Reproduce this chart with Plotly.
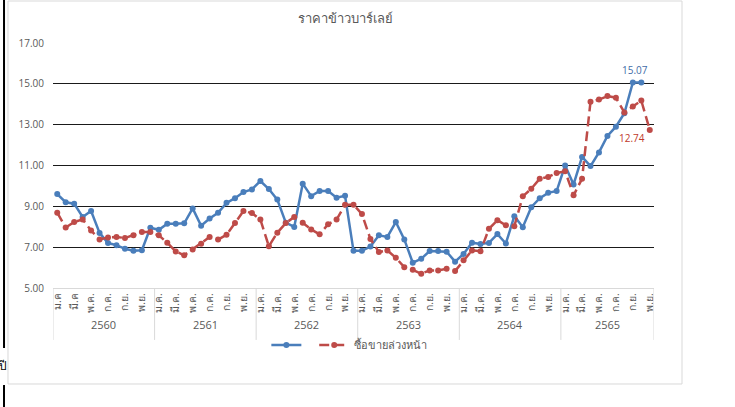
import plotly.graph_objects as go

title_text = "ราคาข้าวบาร์เลย์"
years = ["2560", "2561", "2562", "2563", "2564", "2565"]
months_per_year = [12, 12, 12, 12, 12, 11]
tick_labels = (
    ["ม.ค", "มี.ค", "พ.ค.", "ก.ค.", "ก.ย.", "พ.ย."]
    + ["ม.ค.", "มี.ค.", "พ.ค.", "ก.ค.", "ก.ย.", "พ.ย."] * 5
)

price = [9.60, 9.20, 9.13, 8.48, 8.77, 7.70, 7.20, 7.10, 6.92, 6.82, 6.85, 7.95,
         7.85, 8.15, 8.15, 8.17, 8.90, 8.05, 8.40, 8.68, 9.17, 9.40, 9.70, 9.83,
         10.24, 9.85, 9.33, 8.20, 7.99, 10.11, 9.50, 9.75, 9.75, 9.42, 9.52, 6.82,
         6.82, 7.03, 7.58, 7.50, 8.23, 7.38, 6.24, 6.43, 6.81, 6.81, 6.78, 6.29,
         6.67, 7.22, 7.15, 7.21, 7.64, 7.18, 8.52, 7.98, 8.96, 9.40, 9.66, 9.75,
         11.00, 10.07, 11.42, 10.97, 11.64, 12.45, 12.90, 13.56, 15.07, 15.07, None]

futures = [8.69, 7.96, 8.23, 8.36, 7.82, 7.38, 7.47, 7.50, 7.45, 7.58, 7.74, 7.74,
           7.58, 7.22, 6.79, 6.60, 6.89, 7.17, 7.50, 7.37, 7.61, 8.18, 8.77, 8.67,
           8.35, 7.04, 7.71, 8.18, 8.48, 8.20, 7.87, 7.63, 8.12, 8.35, 9.08, 9.08,
           8.62, 7.40, 6.76, 6.84, 6.48, 6.02, 5.89, 5.70, 5.86, 5.86, 5.94, 5.83,
           6.36, 6.84, 6.80, 7.90, 8.32, 8.07, 8.03, 9.49, 9.86, 10.35, 10.44, 10.63,
           10.72, 9.54, 10.35, 14.12, 14.23, 14.40, 14.32, 13.60, 13.89, 14.18, 12.74]

series_names = [" ", "ซื้อขายล่วงหน้า"]
y_ticks = [5, 7, 9, 11, 13, 15, 17]

n = sum(months_per_year)
x = list(range(n))

BLUE = "#4A7EBB"
RED = "#BE4B48"
GRAY = "#595959"
FONT = "Open Sans, Noto Sans, sans-serif"

fig = go.Figure()
fig.add_trace(go.Scatter(
    x=x, y=price, name=series_names[0], mode="lines+markers",
    line=dict(color=BLUE, width=2.5),
    marker=dict(color=BLUE, size=6),
))
fig.add_trace(go.Scatter(
    x=x, y=futures, name=series_names[1], mode="lines+markers",
    line=dict(color=RED, width=2.5, dash="10px,5px"),
    marker=dict(color=RED, size=6),
))

# year group labels and dividers
shapes = []
annotations = []
start = 0
bounds = [-0.5]
for yr, m in zip(years, months_per_year):
    mid = start + (m - 1) / 2
    annotations.append(dict(x=mid, y=-0.151, xref="x", yref="paper", text=yr,
                            showarrow=False, font=dict(size=11, color=GRAY, family=FONT),
                            yanchor="middle"))
    start += m
    bounds.append(start - 0.5)
for b in bounds:
    shapes.append(dict(type="line", xref="x", yref="paper", x0=b, x1=b, y0=0, y1=-0.212,
                       line=dict(color="#D9D9D9", width=1)))

# chart border
shapes.append(dict(type="rect", xref="paper", yref="paper", x0=-0.0749, x1=1.0466,
                   y0=-0.3918, y1=1.1714, line=dict(color="#D9D9D9", width=1)))
# outer black edge line
shapes.append(dict(type="line", xref="paper", yref="paper", x0=-0.0815, x1=-0.0815,
                   y0=-0.245, y1=1.2, line=dict(color="black", width=2)))
shapes.append(dict(type="line", xref="paper", yref="paper", x0=-0.0815, x1=-0.0815,
                   y0=-0.6, y1=-0.396, line=dict(color="black", width=2)))

# data labels
annotations.append(dict(x=68, y=price[68], xref="x", yref="y", text=f"{price[68]:.2f}",
                        showarrow=False, yshift=12, xshift=2,
                        font=dict(size=10, color="#3F6CA8", family=FONT)))
annotations.append(dict(x=70, y=futures[70], xref="x", yref="y", text=f"{futures[70]:.2f}",
                        showarrow=False, yshift=-8, xshift=-3, xanchor="right",
                        font=dict(size=10, color="#C0392B", family=FONT)))
annotations.append(dict(x=-0.095, y=-0.36, xref="paper", yref="paper", text="ปี",
                        showarrow=False, font=dict(size=12, color="black", family=FONT)))

fig.update_layout(
    width=735, height=407,
    margin=dict(l=53, r=81, t=43, b=119),
    paper_bgcolor="white", plot_bgcolor="white",
    title=dict(text=title_text, x=(345) / 735, xanchor="center", y=1 - 18 / 407,
               yanchor="middle", font=dict(size=13, color=GRAY, family=FONT)),
    font=dict(family=FONT, color=GRAY),
    showlegend=True,
    legend=dict(orientation="h", x=0.355, xanchor="left", y=-0.233, yanchor="middle",
                font=dict(size=11, color=GRAY), itemwidth=30, tracegroupgap=0,
                bgcolor="rgba(0,0,0,0)"),
    shapes=shapes,
    annotations=annotations,
)
fig.update_xaxes(
    range=[-0.5, n - 0.5],
    tickmode="array",
    tickvals=list(range(0, n, 2)),
    ticktext=tick_labels,
    tickangle=-90,
    tickfont=dict(size=10.5, color=GRAY, family=FONT),
    showgrid=False, zeroline=False,
    showline=True, linecolor="#D9D9D9", linewidth=1,
    ticks="", automargin=False,
)
fig.update_yaxes(
    range=[5, 17],
    tickmode="array",
    tickvals=y_ticks,
    tickformat=".2f",
    tickfont=dict(size=10, color=GRAY, family=FONT),
    showgrid=True, gridcolor="#1a1a1a", gridwidth=1,
    zeroline=False, showline=False,
    ticks="", ticklabelstandoff=8, automargin=False,
)

fig.write_html("out.html", post_script="document.body.style.margin='0';",
               config={"displayModeBar": False})
